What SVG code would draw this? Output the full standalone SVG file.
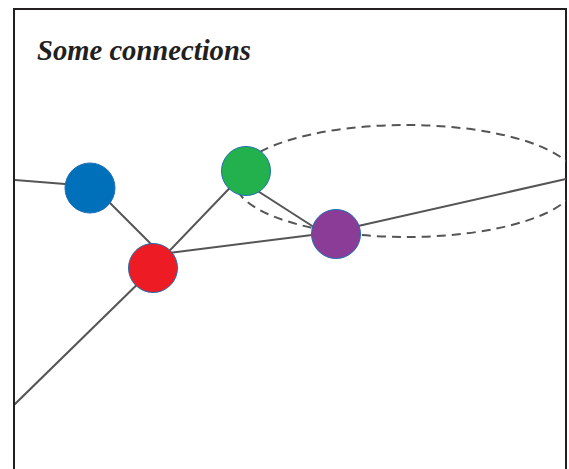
<svg xmlns="http://www.w3.org/2000/svg" width="569" height="469" viewBox="0 0 569 469">
<style>
.edge{stroke:#555;stroke-width:2;fill:none}
.node{stroke:#1f6fb5;stroke-width:1}
.title{font-family:"Liberation Serif",serif;font-weight:bold;font-style:italic;font-size:29px;fill:#231f20}
</style>
<defs><clipPath id="c"><rect x="15" y="10" width="551" height="459"/></clipPath></defs>
<rect x="0" y="0" width="569" height="469" fill="#fff"/>
<path d="M14,469 V9 H566 V469" fill="none" stroke="#231f20" stroke-width="2"/>
<text class="title" x="37" y="60" textLength="214" lengthAdjust="spacingAndGlyphs">Some connections</text>
<g id="connectors" clip-path="url(#c)">
<ellipse cx="406" cy="181" rx="171" ry="56" fill="none" stroke="#555" stroke-width="2" stroke-dasharray="9,6"/>
<line class="edge" x1="14" y1="180" x2="90" y2="186"/>
<line class="edge" x1="90" y1="183" x2="152" y2="245"/>
<line class="edge" x1="153" y1="268" x2="246" y2="171"/>
<line class="edge" x1="153" y1="255" x2="336" y2="232"/>
<line class="edge" x1="250" y1="186" x2="320" y2="231"/>
<line class="edge" x1="336" y1="231" x2="566" y2="179"/>
<line class="edge" x1="153" y1="269" x2="14" y2="405"/>
</g>
<g id="blue"><circle class="node" cx="90" cy="188" r="25" fill="#0070ba"/></g>
<g id="red"><circle class="node" cx="153" cy="268" r="24.5" fill="#ed1c24"/></g>
<g id="green"><circle class="node" cx="246" cy="171" r="24.5" fill="#22b14c"/></g>
<g id="purple"><circle class="node" cx="336" cy="234" r="24.5" fill="#8b3c96"/></g>
</svg>
